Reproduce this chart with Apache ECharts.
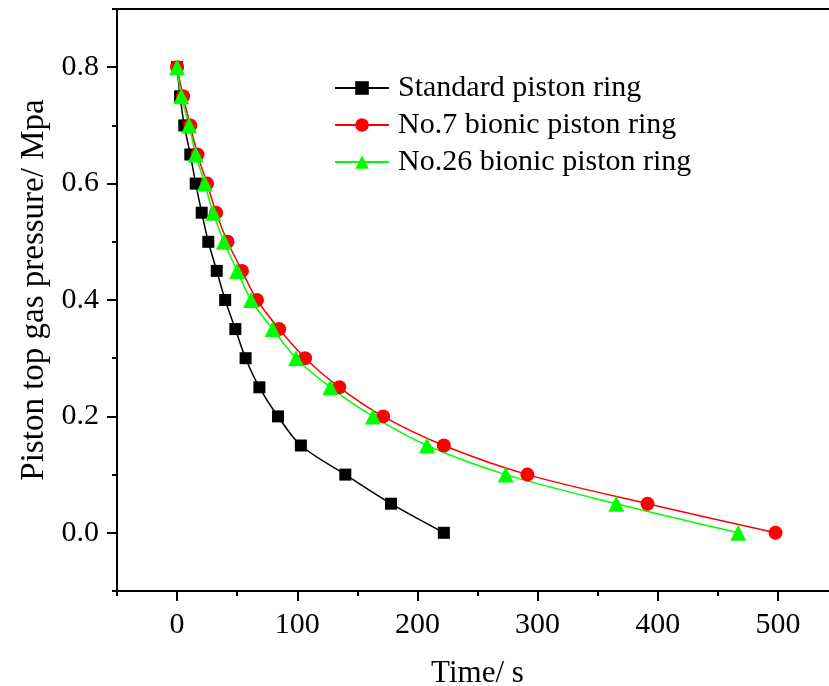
<!DOCTYPE html>
<html>
<head>
<meta charset="utf-8">
<script src="https://cdn.jsdelivr.net/npm/echarts@6/dist/echarts.min.js"></script>
<style>
html,body{margin:0;padding:0;background:#fff;overflow:hidden;}
#chart{width:829px;height:686px;}
</style>
</head>
<body>
<div id="chart"></div>
<script>
// Data
var pressure = [0.8, 0.75, 0.7, 0.65, 0.6, 0.55, 0.5, 0.45, 0.4, 0.35, 0.3, 0.25, 0.2, 0.15, 0.1, 0.05, 0.0];
var timeStandard = [0, 2.5, 6, 11, 15.5, 20.5, 26, 33, 40, 48.5, 57, 68.5, 84, 103, 140, 178, 222];
var timeNo7 = [0, 5, 11, 17, 25, 32.5, 42, 54, 66.5, 85, 106.5, 135, 171.5, 222, 291.5, 391.5, 498];
var timeNo26 = [0, 3.5, 10, 15.5, 23, 30, 39, 50, 61.5, 79.5, 99, 127.5, 163, 208, 273.5, 365.5, 467];
var seriesNames = ['Standard piston ring', 'No.7 bionic piston ring', 'No.26 bionic piston ring'];
var xTickLabels = [0, 100, 200, 300, 400, 500];
var yTickLabels = [0.0, 0.2, 0.4, 0.6, 0.8];

function pairs(xs, ys) {
  return xs.map(function (x, i) { return [x, ys[i]]; });
}

var FONT = 'Liberation Serif';
var chart = echarts.init(document.getElementById('chart'), null, {renderer: 'canvas'});

var option = {
  backgroundColor: '#ffffff',
  animation: false,
  grid: {
    left: 117, top: 9, width: 721, height: 582,
    outerBoundsMode: 'none', containLabel: false,
    show: true, borderColor: '#000', borderWidth: 2, backgroundColor: '#fff'
  },
  legend: {
    left: 329, top: 68, orient: 'vertical',
    itemWidth: 54, itemHeight: 17, itemGap: 7,
    textStyle: {fontFamily: FONT, fontSize: 30, color: '#000', lineHeight: 30, padding: [0, 0, 0, 4]},
    data: seriesNames
  },
  xAxis: [{
    type: 'value', min: -50, max: 550, position: 'bottom',
    name: 'Time/ s', nameLocation: 'middle', nameGap: 67,
    nameTextStyle: {fontFamily: FONT, fontSize: 31, color: '#000'},
    axisLine: {show: true, onZero: false, lineStyle: {color: '#000', width: 2}},
    axisTick: {show: true, inside: false, length: 10, lineStyle: {color: '#000', width: 2}, customValues: xTickLabels},
    axisLabel: {show: true, margin: 19, fontFamily: FONT, fontSize: 30, color: '#000', customValues: xTickLabels},
    splitLine: {show: false}
  }, {
    type: 'value', min: -50, max: 550, interval: 50, position: 'bottom',
    axisLine: {show: false, onZero: false},
    axisTick: {show: true, inside: false, length: 5, lineStyle: {color: '#000', width: 2}},
    axisLabel: {show: false},
    splitLine: {show: false}
  }],
  yAxis: [{
    type: 'value', min: -0.1, max: 0.9, position: 'left',
    name: 'Piston top gas pressure/ Mpa', nameLocation: 'middle', nameGap: 66,
    nameTextStyle: {fontFamily: FONT, fontSize: 33, color: '#000', padding: [0, 0, 0, 20]},
    axisLine: {show: true, onZero: false, lineStyle: {color: '#000', width: 2}},
    axisTick: {show: true, inside: false, length: 10, lineStyle: {color: '#000', width: 2}, customValues: yTickLabels},
    axisLabel: {show: true, margin: 18, fontFamily: FONT, fontSize: 30, color: '#000', customValues: yTickLabels,
      formatter: function (v) { return Number(v).toFixed(1); }},
    splitLine: {show: false}
  }, {
    type: 'value', min: -0.1, max: 0.9, interval: 0.1, position: 'left', offset: 0,
    axisLine: {show: false, onZero: false},
    axisTick: {show: true, inside: false, length: 5, lineStyle: {color: '#000', width: 2}},
    axisLabel: {show: false},
    splitLine: {show: false}
  }],
  series: [{
    name: seriesNames[0], type: 'line', xAxisIndex: 0, yAxisIndex: 0,
    data: pairs(timeStandard, pressure), smooth: 0.3,
    symbol: 'rect', symbolSize: 12,
    lineStyle: {color: '#000', width: 1.5}, itemStyle: {color: '#000'}
  }, {
    name: seriesNames[1], type: 'line', xAxisIndex: 0, yAxisIndex: 0,
    data: pairs(timeNo7, pressure), smooth: 0.3,
    symbol: 'circle', symbolSize: 14,
    lineStyle: {color: '#ff0000', width: 1.5}, itemStyle: {color: '#ff0000'}
  }, {
    name: seriesNames[2], type: 'line', xAxisIndex: 0, yAxisIndex: 0,
    data: pairs(timeNo26, pressure), smooth: 0.3,
    symbol: 'triangle', symbolSize: 16,
    lineStyle: {color: '#00ff00', width: 1.5}, itemStyle: {color: '#00ff00'}
  }]
};
chart.setOption(option);
</script>
</body>
</html>
